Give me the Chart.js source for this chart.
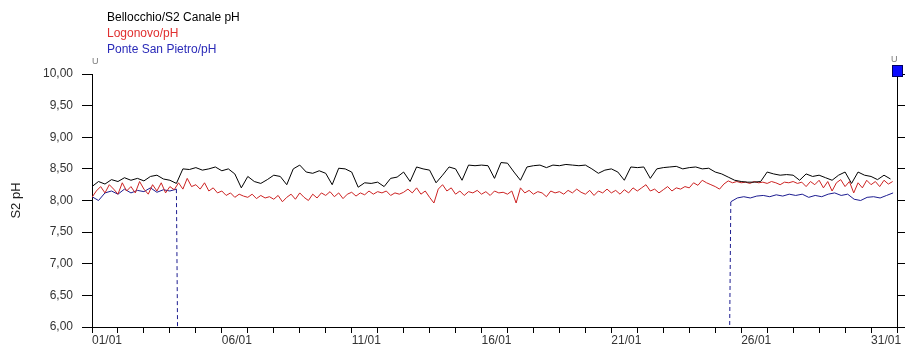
<!DOCTYPE html>
<html>
<head>
<meta charset="utf-8">
<script src="https://cdn.jsdelivr.net/npm/chart.js@4.4.1/dist/chart.umd.min.js"></script>
<style>
  html, body { margin: 0; padding: 0; background: #fff; }
  #wrap { width: 908px; height: 347px; }
</style>
</head>
<body>
<div id="wrap"><canvas id="chart" width="908" height="347"></canvas></div>
<script>
// x values are days from 01/01 00:00
const seriesNames = ["Bellocchio/S2 Canale pH", "Logonovo/pH", "Ponte San Pietro/pH"];
const seriesColors = ["#000000", "#cc2222", "#1c1c90"];
const legendColors = ["#000000", "#e03030", "#2a2ab8"];
const yTicks = [6, 6.5, 7, 7.5, 8, 8.5, 9, 9.5, 10];

// Bellocchio, every 6 hours
const blackStep = 0.25;
const blackValues = [
  8.22, 8.30, 8.26, 8.33,  8.30, 8.36, 8.32, 8.35,  8.31, 8.38, 8.40, 8.34,
  8.32, 8.27, 8.50, 8.49,  8.52, 8.48, 8.50, 8.53,  8.47, 8.50, 8.42, 8.20,
  8.38, 8.30, 8.27, 8.33,  8.40, 8.38, 8.25, 8.50,  8.56, 8.45, 8.43, 8.47,
  8.43, 8.25, 8.51, 8.50,  8.45, 8.21, 8.28, 8.27,  8.29, 8.22, 8.35, 8.37,
  8.45, 8.30, 8.53, 8.50,  8.48, 8.28, 8.40, 8.53,  8.50, 8.32, 8.56, 8.55,
  8.56, 8.55, 8.35, 8.60,  8.59, 8.45, 8.32, 8.53,  8.55, 8.56, 8.52, 8.56,
  8.55, 8.57, 8.56, 8.55,  8.56, 8.50, 8.43, 8.48,  8.50, 8.45, 8.32, 8.53,
  8.52, 8.53, 8.35, 8.50,  8.52, 8.53, 8.54, 8.50,  8.52, 8.53, 8.50, 8.51,
  8.45, 8.42, 8.37, 8.32,  8.30, 8.29, 8.29, 8.30,  8.45, 8.42, 8.40, 8.41,
  8.40, 8.32, 8.42, 8.38,  8.40, 8.36, 8.32, 8.40,  8.45, 8.27, 8.45, 8.40,
  8.38, 8.33, 8.40, 8.34
];

// Logonovo, every 4 hours
const redStep = 1 / 6;
const redValues = [
  8.05, 8.15, 8.22, 8.12, 8.25, 8.18,  8.10, 8.28, 8.15, 8.22, 8.12, 8.30,
  8.18, 8.10, 8.25, 8.15, 8.28, 8.12,  8.22, 8.17, 8.28, 8.18, 8.35, 8.22,
  8.25, 8.18, 8.28, 8.15, 8.20, 8.12,  8.15, 8.08, 8.12, 8.05, 8.10, 8.07,
  8.05, 8.10, 8.03, 8.08, 8.04, 8.06,  8.02, 8.08, 7.98, 8.05, 8.10, 8.02,
  8.12, 8.05, 8.00, 8.10, 8.04, 8.12,  8.08, 8.14, 8.06, 8.12, 8.03, 8.10,
  8.13, 8.07, 8.12, 8.09, 8.15, 8.10,  8.14, 8.12, 8.15, 8.08, 8.12, 8.10,
  8.13, 8.18, 8.12, 8.20, 8.10, 8.15,  8.05, 7.96, 8.18, 8.25, 8.15, 8.20,
  8.10, 8.15, 8.08, 8.14, 8.12, 8.16,  8.10, 8.14, 8.08, 8.15, 8.12, 8.13,
  8.10, 8.15, 7.96, 8.20, 8.12, 8.16,  8.10, 8.14, 8.12, 8.06, 8.15, 8.12,
  8.14, 8.10, 8.16, 8.12, 8.18, 8.13,  8.10, 8.16, 8.08, 8.15, 8.12, 8.18,
  8.12, 8.16, 8.10, 8.17, 8.12, 8.20,  8.15, 8.20, 8.25, 8.15, 8.18, 8.12,
  8.17, 8.22, 8.15, 8.20, 8.18, 8.22,  8.20, 8.28, 8.24, 8.32, 8.28, 8.25,
  8.22, 8.18, 8.26, 8.31, 8.28, 8.30,  8.28, 8.29, 8.27, 8.30, 8.28, 8.29,
  8.27, 8.30, 8.28, 8.25, 8.29, 8.28,  8.30, 8.27, 8.29, 8.22, 8.30, 8.25,
  8.32, 8.20, 8.30, 8.15, 8.28, 8.33,  8.22, 8.30, 8.12, 8.28, 8.20, 8.32,
  8.25, 8.30, 8.22, 8.32, 8.26, 8.30
];

// Ponte San Pietro, every 6 hours, with a gap (no data) in the middle
const blueStep = 0.25;
const blueStartA = 0;
const blueValuesA = [8.06, 8.00, 8.12, 8.15, 8.10, 8.18, 8.12, 8.16, 8.14, 8.20, 8.13, 8.17, 8.15, 8.18];
const blueGap = [3.3, 24.55];
const blueStartB = 24.6;
const blueValuesB = [
  7.98, 8.04, 8.06, 8.04, 8.07, 8.08, 8.06, 8.09, 8.07, 8.10, 8.08, 8.10, 8.05,
  8.08, 8.06, 8.10, 8.12, 8.08, 8.10, 8.02, 8.00, 8.05, 8.06, 8.04, 8.08, 8.12
];

const Y_MIN = 6, Y_MAX = 10;

const toPoints = (start, step, vals) => vals.map((v, i) => ({ x: start + i * step, y: v }));

// gap drawn as dashed drop to the bottom of the axis
const bluePoints = [
  ...toPoints(blueStartA, blueStep, blueValuesA),
  { x: blueGap[0], y: Y_MIN - 0.3 },
  { x: blueGap[0] + 0.01, y: null },
  { x: blueGap[1], y: Y_MIN - 0.3 },
  ...toPoints(blueStartB, blueStep, blueValuesB)
];

const dayLabel = (d) => String(d + 1).padStart(2, "0") + "/01";

const textPlugin = {
  id: "texts",
  afterDraw(chart) {
    const ctx = chart.ctx;
    ctx.save();
    ctx.font = '12px "Liberation Sans", Arial, sans-serif';
    ctx.textBaseline = "middle";
    ctx.textAlign = "left";
    seriesNames.forEach((n, i) => {
      ctx.fillStyle = legendColors[i];
      ctx.fillText(n, 107, 18 + i * 16);
    });
    ctx.font = '9px "Liberation Sans", Arial, sans-serif';
    ctx.fillStyle = "#777";
    ctx.fillText("U", 92, 62);
    ctx.fillText("U", 891, 60);
    // marker on right axis
    ctx.fillStyle = "#0a0aff";
    ctx.fillRect(892, 65, 10, 11);
    ctx.strokeStyle = "#000060";
    ctx.lineWidth = 1;
    ctx.strokeRect(892.5, 65.5, 10, 11);
    ctx.restore();
  }
};

const axisFont = { family: '"Liberation Sans", Arial, sans-serif', size: 12 };

new Chart(document.getElementById("chart"), {
  type: "line",
  data: {
    datasets: [
      { label: seriesNames[0], data: toPoints(0, blackStep, blackValues), borderColor: seriesColors[0] },
      { label: seriesNames[1], data: toPoints(0, redStep, redValues), borderColor: seriesColors[1] },
      {
        label: seriesNames[2], data: bluePoints, borderColor: seriesColors[2], spanGaps: false,
        segment: {
          borderDash: (c) => (c.p0.parsed.y < Y_MIN || c.p1.parsed.y < Y_MIN) ? [4, 3] : undefined
        }
      }
    ]
  },
  options: {
    responsive: false,
    animation: false,
    devicePixelRatio: 1,
    parsing: false,
    elements: {
      line: { borderWidth: 1, tension: 0 },
      point: { radius: 0 }
    },
    layout: { padding: { top: 74, left: 0, right: 0, bottom: 0 } },
    plugins: { legend: { display: false }, tooltip: { enabled: false } },
    scales: {
      x: {
        type: "linear",
        position: "bottom",
        min: 0,
        max: 31,
        afterFit: (s) => { s.height = 20; },
        grid: { drawOnChartArea: false, drawTicks: true, tickLength: 6, color: "#000" },
        border: { color: "#000", width: 1 },
        ticks: {
          stepSize: 1,
          autoSkip: false,
          maxRotation: 0,
          align: "start",
          padding: 0,
          color: "#333",
          font: axisFont,
          callback: (v) => (v % 5 === 0 && v <= 30) ? dayLabel(v) : ""
        }
      },
      y: {
        position: "left",
        min: Y_MIN,
        max: Y_MAX,
        afterFit: (s) => { s.width = 92; },
        afterBuildTicks: (s) => { s.ticks = yTicks.map((v) => ({ value: v })); },
        grid: { drawOnChartArea: false, drawTicks: true, tickLength: 10, color: "#000" },
        border: { color: "#000", width: 1 },
        ticks: {
          padding: 9,
          color: "#333",
          font: axisFont,
          callback: (v) => v.toFixed(2).replace(".", ",")
        },
        title: {
          display: true,
          text: "S2 pH",
          color: "#222",
          font: { family: '"Liberation Sans", Arial, sans-serif', size: 13 },
          padding: { top: 9, bottom: 0 }
        }
      },
      y2: {
        position: "right",
        min: Y_MIN,
        max: Y_MAX,
        afterFit: (s) => { s.width = 11; },
        afterBuildTicks: (s) => { s.ticks = yTicks.map((v) => ({ value: v })); },
        grid: { drawOnChartArea: false, drawTicks: true, tickLength: 8, color: "#000" },
        border: { color: "#000", width: 1 },
        ticks: { display: false }
      }
    }
  },
  plugins: [textPlugin]
});
</script>
</body>
</html>
